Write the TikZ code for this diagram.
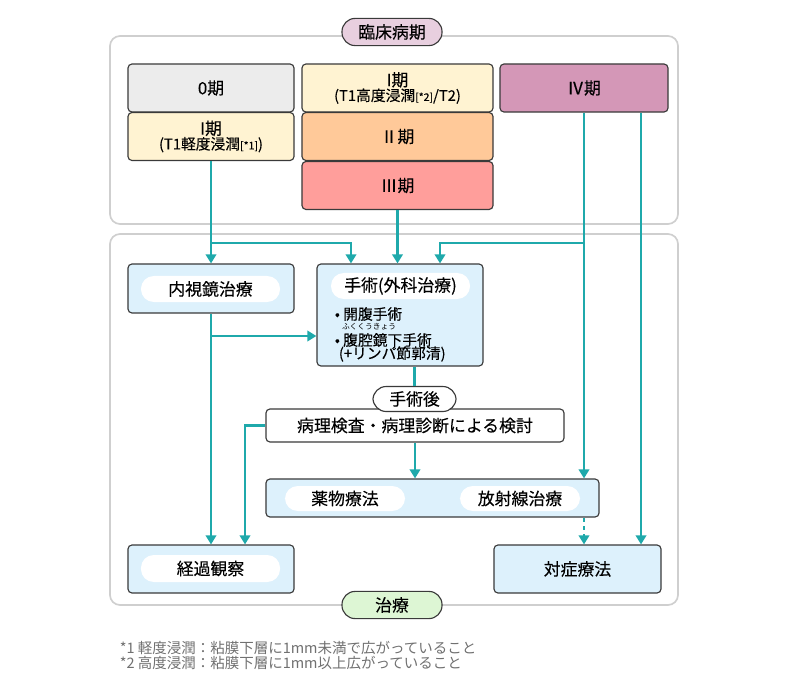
\documentclass[tikz,border=0pt]{standalone}
\usepackage{fontspec}
\setmainfont{Noto Sans CJK JP}[FakeBold=0.2]
\newfontfamily\notefont{Noto Sans CJK JP}
\usepackage{tikz}
\usetikzlibrary{calc,positioning,arrows.meta}

\definecolor{flowteal}{HTML}{1FA9AB}
\definecolor{framegray}{HTML}{CFCFCF}
\definecolor{boxline}{HTML}{3A3A3A}
\definecolor{stzero}{HTML}{ECECEC}
\definecolor{stone}{HTML}{FFF3D2}
\definecolor{sttwo}{HTML}{FFC999}
\definecolor{stthree}{HTML}{FF9E9B}
\definecolor{stfour}{HTML}{D497B7}
\definecolor{stagepink}{HTML}{E8CFDF}
\definecolor{treatblue}{HTML}{DDF1FC}
\definecolor{treatgreen}{HTML}{DDF6D4}
\definecolor{notegray}{HTML}{707070}

\newcommand{\bigfont}{\fontsize{12}{13.5}\selectfont}
\newcommand{\subfont}{\fontsize{10.5}{12}\selectfont}

\begin{document}
\begin{tikzpicture}[x=0.025cm,y=-0.025cm,inner sep=0.4mm,
  frame/.style={draw=framegray,line width=1.2pt,rounded corners=0.25cm},
  stagebox/.style={draw=boxline,line width=0.8pt,rounded corners=0.1cm,minimum height=1.2cm,font=\bigfont,align=center},
  treatbox/.style={stagebox,fill=treatblue},
  pill/.style={fill=white,rounded corners=0.32cm,minimum height=0.65cm,font=\bigfont},
  tag/.style={draw=boxline,line width=0.8pt,rounded corners=0.33cm,minimum width=2.5cm,minimum height=0.68cm,font=\bigfont},
  flow/.style={draw=flowteal,line width=1.6pt,-{Triangle[length=6.5pt,width=7.5pt]}},
  note/.style={anchor=west,text=notegray,font=\notefont\fontsize{10.3}{11}\selectfont}]
\useasboundingbox (0,0) rectangle (800,688);

% clinical stage frame
\draw[frame] (110,36) rectangle (678,224);
\node[tag,fill=stagepink] (stagelbl) at (392,32) {臨床病期};

\node[stagebox,fill=stzero,minimum width=4.15cm] (st0) at (211,88) {0期};
\node[stagebox,fill=stone,minimum width=4.15cm] (stIa) at (211,136.5) {I期\\[-3pt]{\subfont (T1軽度浸潤{\fontsize{7.5}{8}\selectfont[*1]})}};
\node[stagebox,fill=stone,minimum width=4.775cm] (stIb) at (397.5,88) {I期\\[-3pt]{\subfont (T1高度浸潤{\fontsize{7.5}{8}\selectfont[*2]}/T2)}};
\node[stagebox,fill=sttwo,minimum width=4.775cm] (stII) at (397.5,136.5) {Ⅱ期};
\node[stagebox,fill=stthree,minimum width=4.775cm] (stIII) at (397.5,185.5) {Ⅲ期};
\node[stagebox,fill=stfour,minimum width=4.2cm] (stIV) at (584,88) {Ⅳ期};

% treatment frame
\draw[frame] (110,234) rectangle (678,605);
\node[tag,fill=treatgreen] (treatlbl) at (392,605) {治療};

\node[treatbox,minimum width=4.15cm,minimum height=1.225cm] (endo) at (211,288.5) {};
\node[pill,minimum width=3.475cm] (endopill) at (210.5,289) {内視鏡治療};

\node[treatbox,minimum width=4.15cm,minimum height=2.55cm] (surg) at (400,315) {};
\node[pill,minimum width=3.475cm] (surgpill) at (400.5,286) {手術(外科治療)};
\node[anchor=west,font=\subfont] (bul1) at (333,314) {• 開腹手術};
\node[font=\notefont\fontsize{5.5}{6}\selectfont] (rubyt) at (369,327) {ふくくうきょう};
\node[anchor=west,font=\subfont] (bul2) at (333,340) {• 腹腔鏡下手術};
\node[anchor=west,font=\subfont] (bul3) at (337,354) {(+リンパ節郭清)};

\node[stagebox,fill=white,minimum width=7.45cm,minimum height=0.825cm] (patho) at (415,425.5) {病理検査・病理診断による検討};
\node[tag,fill=white,minimum width=2.075cm,minimum height=0.625cm] (postop) at (414.5,399) {手術後};

\node[treatbox,minimum width=8.325cm,minimum height=0.95cm] (therapy) at (432.5,498) {};
\node[pill,minimum width=3cm,minimum height=0.625cm] (drugpill) at (345,498.5) {薬物療法};
\node[pill,minimum width=3cm,minimum height=0.625cm] (radpill) at (520,498.5) {放射線治療};

\node[treatbox,minimum width=4.15cm] (follow) at (211,569) {};
\node[pill,minimum width=3.475cm,minimum height=0.675cm] (followpill) at (210.5,568.5) {経過観察};
\node[treatbox,minimum width=4.175cm] (palli) at (577.5,569) {対症療法};

% connectors
\coordinate (jctl) at (0,243);
\coordinate (jcte) at (0,336);
\draw[flow] (stIa.south) -- (endo.north);
\draw[flow] (stIa.south |- jctl) -| ([xshift=-1.225cm]surg.north);
\draw[flow] (stIII.south) -- (stIII.south |- surg.north);
\draw[flow] (stIV.south) -- (stIV.south |- therapy.north);
\draw[flow] (stIV.south |- jctl) -| ([xshift=1cm]surg.north);
\draw[flow] ([xshift=1.425cm]stIV.south) -- ([xshift=1.425cm]stIV.south |- palli.north);
\draw[flow] (endo.south) -- (follow.north);
\draw[flow] (endo.south |- jcte) -- (surg.west |- jcte);
\draw[flow,-] (postop.north |- surg.south) -- (postop.north);
\draw[flow] (patho.west) -| ([xshift=0.85cm]follow.north);
\draw[flow] (patho.south) -- (patho.south |- therapy.north);
\draw[flow,dashed] (stIV.south |- therapy.south) -- (stIV.south |- palli.north);

% notes
\node[note] (note1) at (118,648) {*1 軽度浸潤：粘膜下層に1mm未満で広がっていること};
\node[note] (note2) at (118,663) {*2 高度浸潤：粘膜下層に1mm以上広がっていること};
\end{tikzpicture}
\end{document}
